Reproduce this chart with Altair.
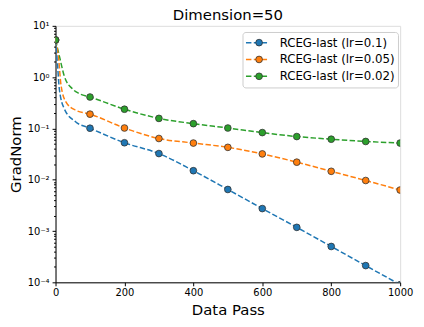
import altair as alt
import pandas as pd

# ---------------- data ----------------
series_names = ["RCEG-last (lr=0.1)", "RCEG-last (lr=0.05)", "RCEG-last (lr=0.02)"]
series_colors = ["#1f77b4", "#ff7f0e", "#2ca02c"]

marker_pass = [0, 100, 200, 300, 400, 500, 600, 700, 800, 900, 1000]
grad_lr01 = [5.3, 0.101, 0.0526, 0.0324, 0.0150, 0.00646, 0.00274, 0.00118, 0.00050, 0.000212, 0.00009]
grad_lr005 = [5.3, 0.19, 0.102, 0.0637, 0.0519, 0.0428, 0.0319, 0.022, 0.0146, 0.00966, 0.0063]
grad_lr002 = [5.3, 0.41, 0.237, 0.157, 0.124, 0.102, 0.083, 0.0695, 0.0617, 0.0557, 0.0519]

early_pass_lr01 = [6, 11, 25, 58]
early_grad_lr01 = [1.66, 0.59, 0.245, 0.135]
early_pass_lr005 = [9, 16, 30, 58]
early_grad_lr005 = [2.24, 0.69, 0.33, 0.227]
early_pass_lr002 = [11, 25, 49, 68]
early_grad_lr002 = [2.6, 1.07, 0.59, 0.48]

y_major = [0.0001, 0.001, 0.01, 0.1, 1, 10]
y_major_labels = ["10⁻⁴", "10⁻³", "10⁻²", "10⁻¹", "10⁰", "10¹"]
x_ticks = [0, 200, 400, 600, 800, 1000]

# ---------------- tables ----------------
marker_rows, line_rows = [], []
for name, grads, ep, eg in [
    (series_names[0], grad_lr01, early_pass_lr01, early_grad_lr01),
    (series_names[1], grad_lr005, early_pass_lr005, early_grad_lr005),
    (series_names[2], grad_lr002, early_pass_lr002, early_grad_lr002),
]:
    for x, y in zip(marker_pass, grads):
        marker_rows.append({"series": name, "pass": x, "grad": y})
        line_rows.append({"series": name, "pass": x, "grad": y})
    for x, y in zip(ep, eg):
        line_rows.append({"series": name, "pass": x, "grad": y})

markers = pd.DataFrame(marker_rows)
lines = pd.DataFrame(line_rows).sort_values(["series", "pass"])

y_minor = [float(f"{k}e{e}") for e in range(-4, 1) for k in range(2, 10)]
y_tick_values = sorted(y_major + y_minor)

label_expr = "".join(
    f"datum.value == {v} ? '{lab}' : " for v, lab in zip(y_major, y_major_labels)
) + "''"
major_test = " || ".join(f"datum.value == {v}" for v in y_major)

FONT = "DejaVu Sans"
W, H = 348, 259

x_enc = alt.X(
    "pass:Q",
    scale=alt.Scale(domain=[0, 1000], nice=False, zero=False),
    axis=alt.Axis(
        values=x_ticks, format="d", title="Data Pass", grid=False, tickSize=3.5,
        labelFontSize=10, labelFont=FONT, labelColor="black", labelPadding=2,
        labelFlush=False, tickColor="black", domainColor="black",
        titleFontSize=15, titleFont=FONT, titleFontWeight="normal", titleColor="black",
        titleX=W / 2, titleY=32, titleBaseline="alphabetic", titleAnchor="middle",
    ),
)
y_enc = alt.Y(
    "grad:Q",
    scale=alt.Scale(type="log", domain=[0.0001, 10], nice=False),
    axis=alt.Axis(
        values=y_tick_values, labelExpr=label_expr, title="GradNorm", grid=False,
        tickSize={"condition": {"test": major_test, "value": 3.5}, "value": 2},
        labelFontSize=10, labelFont=FONT, labelColor="black", labelPadding=3,
        tickColor="black", domainColor="black",
        titleFontSize=15, titleFont=FONT, titleFontWeight="normal", titleColor="black",
        titleAngle=-90, titleX=-35.5, titleY=H / 2, titleBaseline="alphabetic",
        titleAlign="center",
    ),
)

color_scale = alt.Scale(domain=series_names, range=series_colors)

line_layer = alt.Chart(lines).mark_line(
    strokeDash=[5.5, 2.4], strokeWidth=1.5, interpolate="monotone", clip=True
).encode(
    x=x_enc, y=y_enc,
    color=alt.Color(
        "series:N", scale=color_scale, sort=series_names,
        legend=alt.Legend(
            title=None, orient="none", legendX=191.3 - 2.5, legendY=6.2,
            symbolType="stroke", symbolSize=484, symbolStrokeWidth=1.5,
            symbolDash=[5.5, 2.4], labelFontSize=11.9, labelFont=FONT,
            labelColor="black", labelOffset=11, labelLimit=0, padding=2.5,
            fillColor="white", strokeColor="#cccccc", cornerRadius=3,
            clipHeight=16.5, rowPadding=0, zindex=1,
        ),
    ),
    detail="series:N",
)

point_layer = alt.Chart(markers).mark_circle(
    size=46, opacity=1, stroke="#333333", strokeWidth=0.8, clip=True
).encode(
    x=x_enc, y=y_enc,
    fill=alt.Fill(
        "series:N", scale=color_scale, sort=series_names,
        legend=alt.Legend(
            title=None, orient="none", legendX=203 - 2.5 - 3.4, legendY=6.2,
            symbolType="circle", symbolSize=46, symbolStrokeColor="#333333",
            symbolStrokeWidth=0.8, symbolOpacity=1, labelFontSize=11.9,
            labelFont=FONT, labelExpr="''", labelLimit=0, padding=2.5,
            clipHeight=16.5, rowPadding=0, zindex=2,
        ),
    ),
)

chart = alt.layer(line_layer, point_layer).resolve_scale(
    color="independent", fill="independent"
).properties(
    width=W, height=H,
    title=alt.Title(
        "Dimension=50", fontSize=15, font=FONT, fontWeight="normal",
        color="black", anchor="middle", dy=6.5,
    ),
    autosize=alt.AutoSizeParams(type="none"),
    padding={"left": 48, "top": 16.5, "right": 16, "bottom": 35},
).configure_view(stroke="black", strokeWidth=1).configure(background="white")

chart.save("out.html", embed_options={"renderer": "svg", "actions": False})
